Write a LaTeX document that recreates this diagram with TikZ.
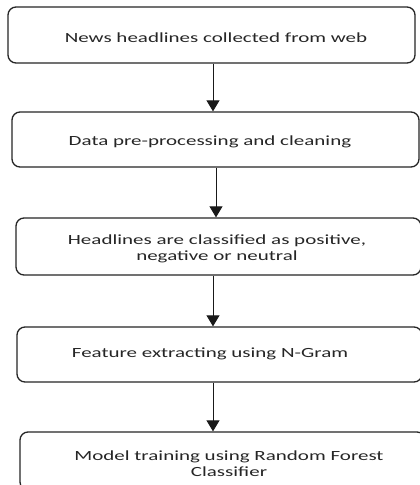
\documentclass[tikz,border=0pt]{standalone}
\usepackage{fontspec}
\setmainfont{Carlito}
\usetikzlibrary{arrows.meta}
\begin{document}
\begin{tikzpicture}[x=1pt,y=-1pt,
  stepbox/.style={draw=black!85,line width=1.3pt,rounded corners=8pt,inner sep=0pt},
  steptext/.style={inner sep=0pt,font=\fontsize{14}{16}\selectfont,text=black!85,align=center,xscale=1.5,transform shape},
  flow/.style={line width=1pt,draw=black!90,-{Triangle[width=13pt,length=11pt]}}]
\useasboundingbox (0,0) rectangle (420,485);
\fill[white] (0,0) rectangle (420,485);
\begin{scope}
\clip (0,0) rectangle (420,485);
\node[stepbox,minimum width=407pt,minimum height=56pt] (b1) at (211.5,35) {};
\node[stepbox,minimum width=407pt,minimum height=55pt] (b2) at (215.5,139.5) {};
\node[stepbox,minimum width=405pt,minimum height=57pt] (b3) at (218.5,246.5) {};
\node[stepbox,minimum width=405pt,minimum height=55pt] (b4) at (219.5,354.5) {};
\node[stepbox,minimum width=405pt,minimum height=58pt] (b5) at (222.5,461) {};
\end{scope}
\node[steptext,anchor=base] (t1) at (216,42.7) {News headlines collected from web};
\node[steptext,anchor=base] (t2) at (210,145) {Data pre-processing and cleaning};
\node[steptext] (t3) at (217,249) {Headlines are classified as positive,\\negative or neutral};
\node[steptext,anchor=base] (t4) at (210,357) {Feature extracting using N-Gram};
\node[steptext] (t5) at (229,464) {Model training using Random Forest\\Classifier};
\draw[flow] (b1.south -| 213,0) -- (b2.north -| 213,0);
\draw[flow] (b2.south -| 216,0) -- (b3.north -| 216,0);
\draw[flow] (b3.south -| 213,0) -- (b4.north -| 213,0);
\draw[flow] (b4.south -| 213,0) -- (b5.north -| 213,0);
\end{tikzpicture}
\end{document}
